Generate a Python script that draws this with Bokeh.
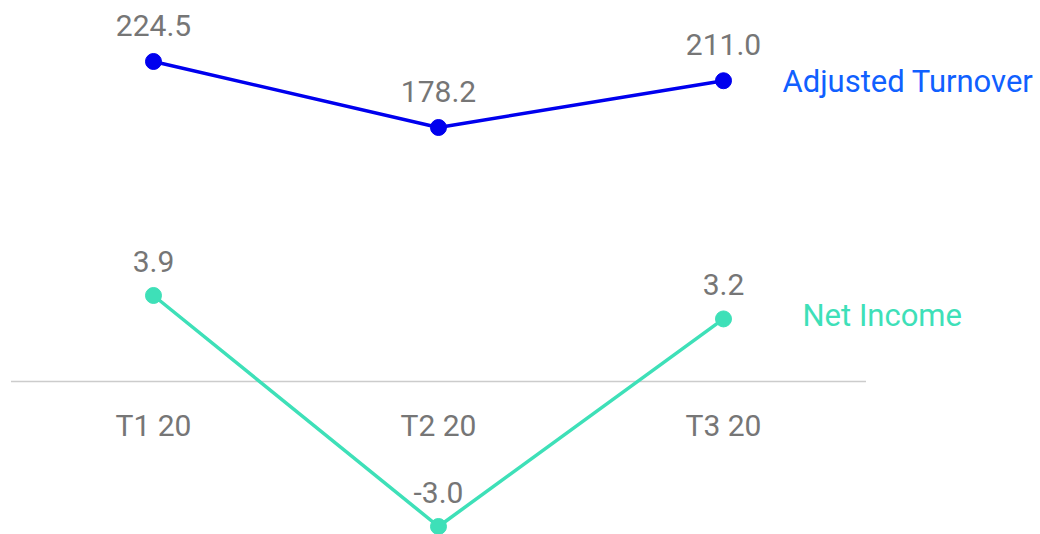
from bokeh.plotting import figure
from bokeh.models import Range1d, ColumnDataSource
from bokeh.core.properties import value
from bokeh.embed import file_html
from bokeh.resources import INLINE

categories = ["T1 20", "T2 20", "T3 20"]
turnover = [224.5, 178.2, 211.0]
net_income = [3.9, -3.0, 3.2]
series_names = ["Adjusted Turnover", "Net Income"]

FONT = value("Roboto")
GRAY = "#767676"
BLUE_LINE = "#0000ee"
BLUE_TEXT = "#1060ff"
TEAL = "#3ee0b8"

xs = list(range(len(categories)))

p = figure(width=1040, height=534, output_backend="svg", toolbar_location=None,
           x_range=Range1d(-0.5368, 3.1123), y_range=Range1d(-3.239, 12.711),
           min_border=0, min_border_left=0, min_border_right=0,
           min_border_top=0, min_border_bottom=0)
p.extra_y_ranges = {"top": Range1d(-107.3, 267.29)}
p.axis.visible = False
p.grid.visible = False
p.outline_line_color = None
p.background_fill_color = "white"
p.border_fill_color = "white"

# baseline (category axis line)
p.segment(x0=[-0.5], x1=[len(categories) - 0.5], y0=[0.0], y1=[0.0],
          y_range_name="top", line_color="#cccccc", line_width=1.5)

# category labels
p.text(x=xs, y=[0.0] * len(xs), text=categories, y_range_name="top",
       text_font=FONT, text_font_size="30px", text_color=GRAY,
       text_align="center", text_baseline="middle", y_offset=44)

# Adjusted Turnover
src_t = ColumnDataSource(dict(x=xs, y=turnover, lbl=[f"{v:.1f}" for v in turnover]))
p.line("x", "y", source=src_t, y_range_name="top", line_color=BLUE_LINE, line_width=3.5)
p.scatter("x", "y", source=src_t, y_range_name="top", size=16,
          fill_color=BLUE_LINE, line_color=BLUE_LINE)
p.text("x", "y", text="lbl", source=src_t, y_range_name="top",
       text_font=FONT, text_font_size="30px", text_color=GRAY,
       text_align="center", text_baseline="middle", y_offset=-36)
p.text(x=[xs[-1]], y=[turnover[-1]], text=[series_names[0]], y_range_name="top",
       text_font=FONT, text_font_size="31px", text_color=BLUE_TEXT,
       text_align="left", text_baseline="middle", x_offset=59, y_offset=1)

# Net Income
src_n = ColumnDataSource(dict(x=xs, y=net_income, lbl=[f"{v:.1f}" for v in net_income]))
p.line("x", "y", source=src_n, line_color=TEAL, line_width=3.5)
p.scatter("x", "y", source=src_n, size=16, fill_color=TEAL, line_color=TEAL)
p.text("x", "y", text="lbl", source=src_n,
       text_font=FONT, text_font_size="30px", text_color=GRAY,
       text_align="center", text_baseline="middle", y_offset=-34)
p.text(x=[xs[-1]], y=[net_income[-1]], text=[series_names[1]],
       text_font=FONT, text_font_size="31px", text_color=TEAL,
       text_align="left", text_baseline="middle", x_offset=79, y_offset=-3)

open("out.html", "w").write(file_html(p, INLINE))
